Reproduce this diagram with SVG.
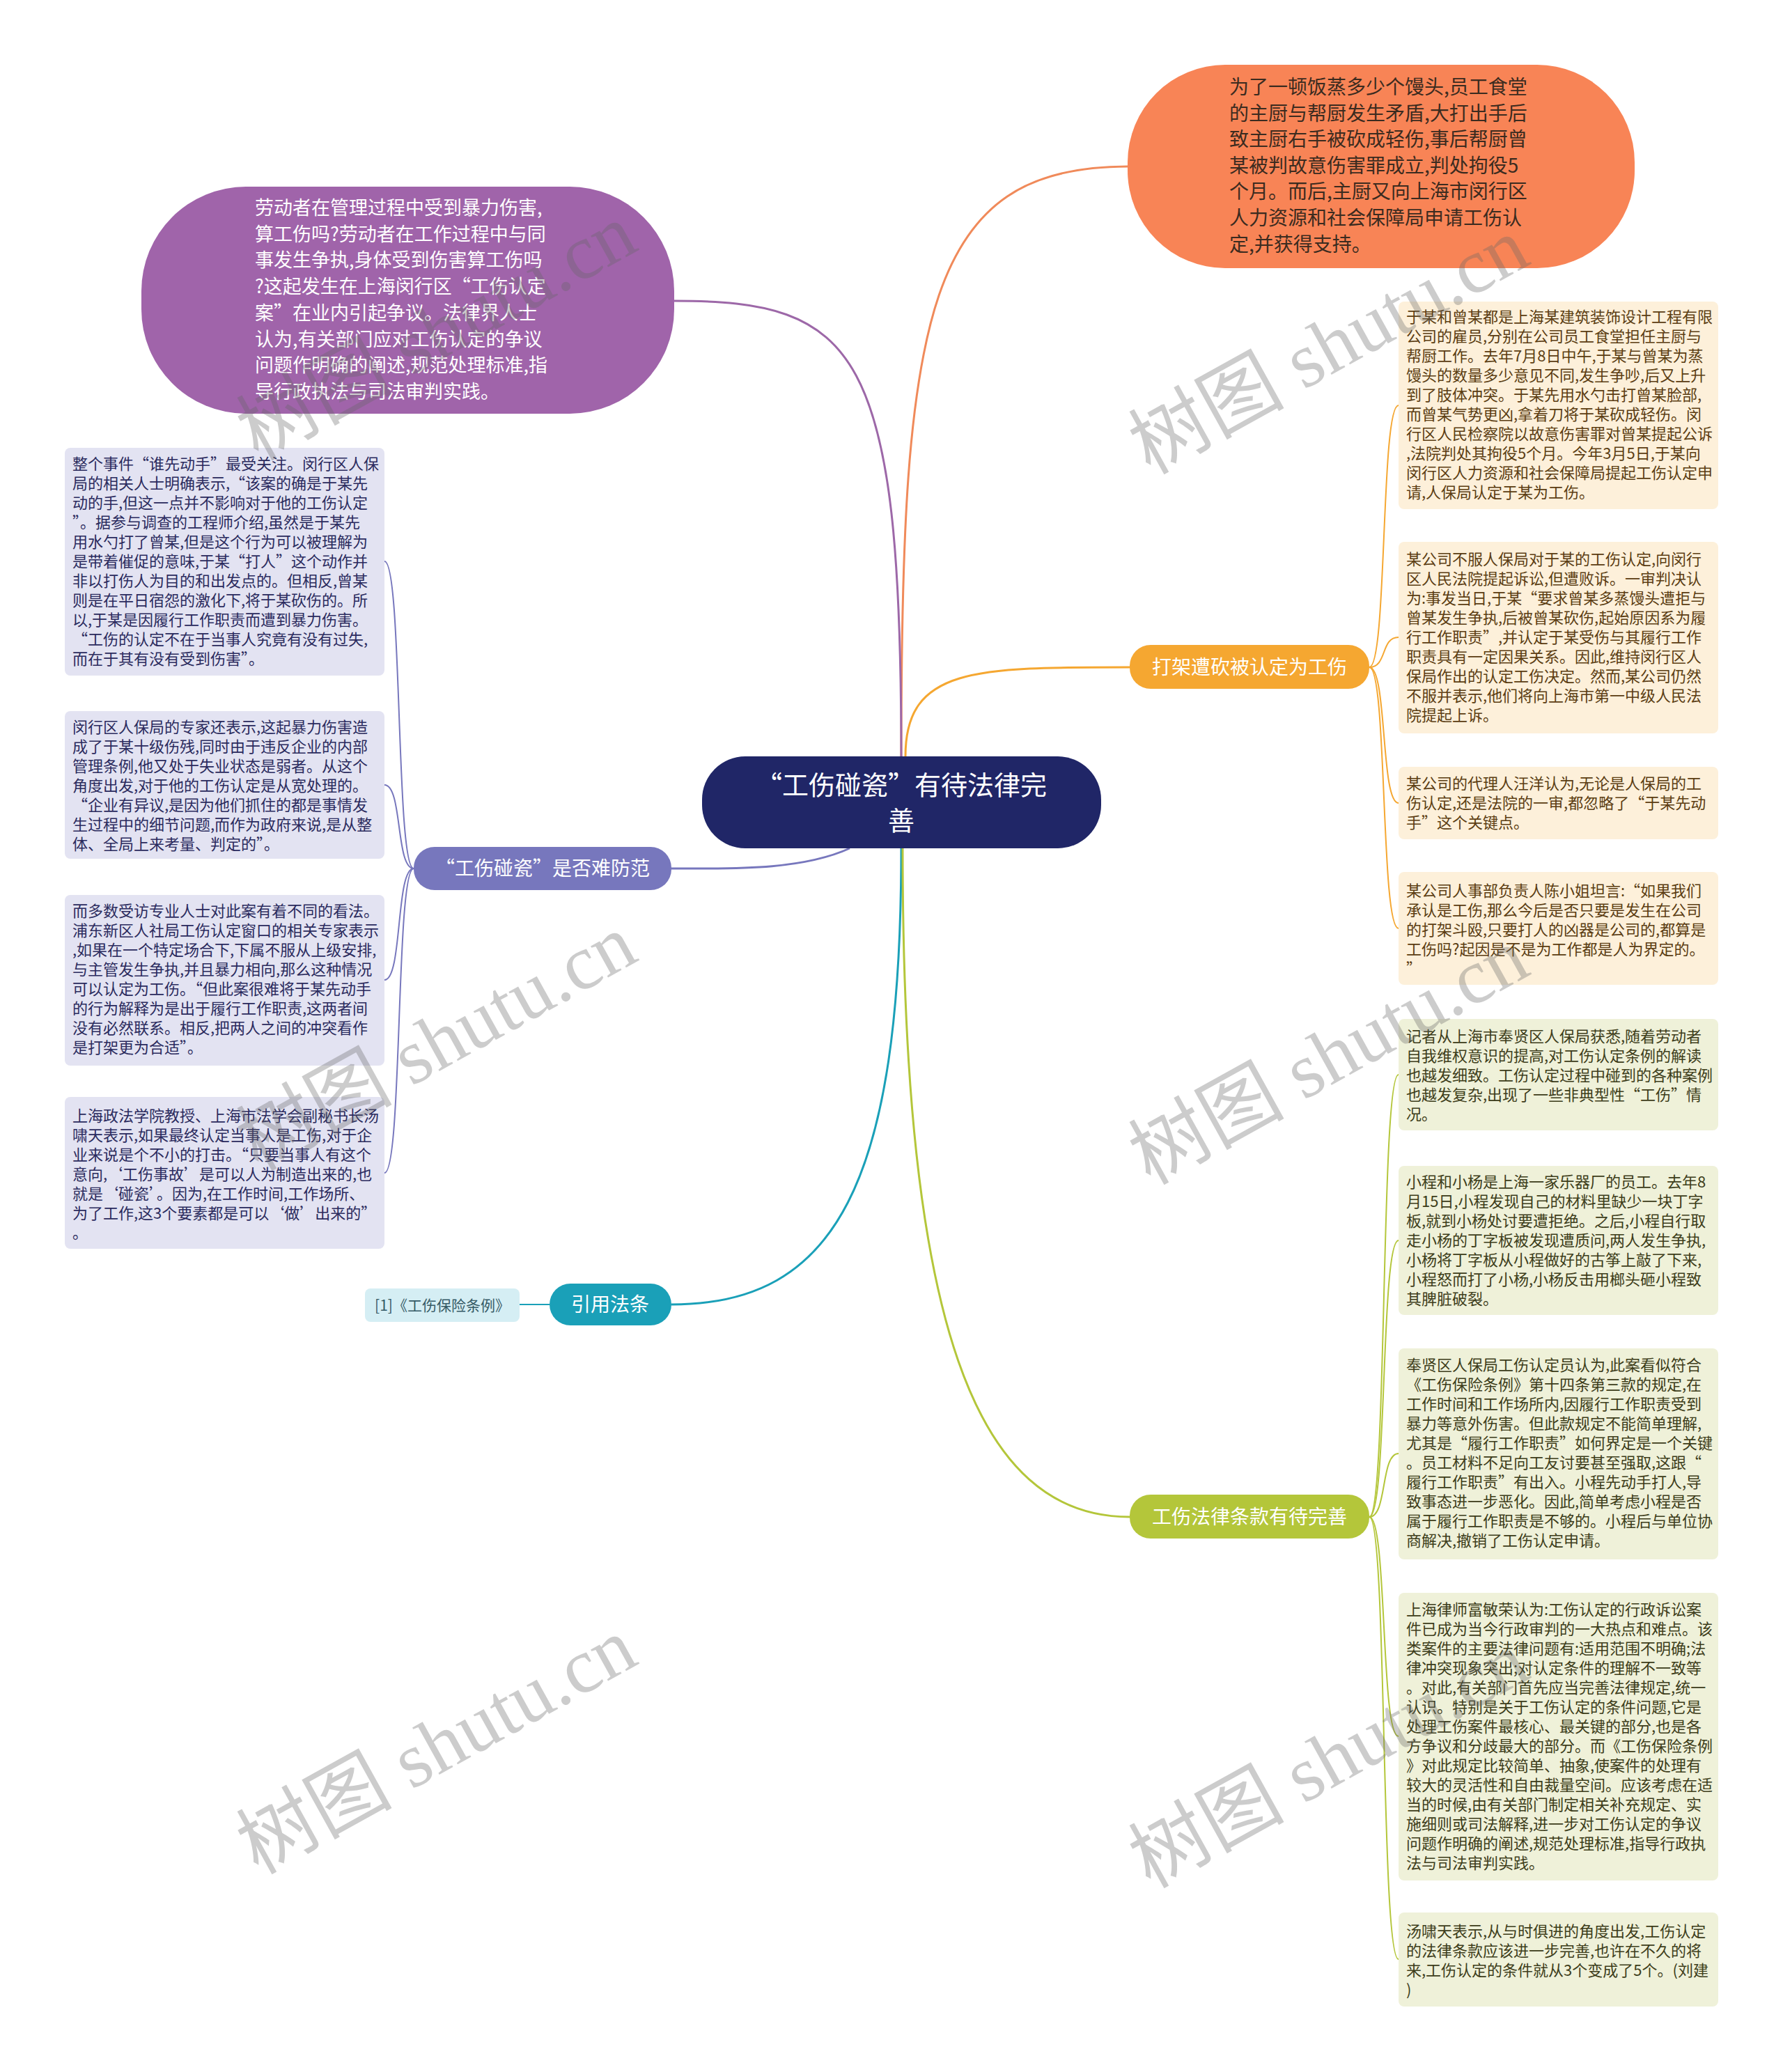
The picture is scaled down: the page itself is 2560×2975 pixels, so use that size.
<svg xmlns="http://www.w3.org/2000/svg" width="2560" height="2975" viewBox="0 0 2560 2975">
<style>
text{font-family:"Noto Sans CJK SC","Noto Sans",sans-serif;}
.leaf{font-size:22px;}
.lt{fill:#2b2b5e;}
.rt{fill:#5b3d12;}
.gt{fill:#3d3d1a;}
.br{font-size:28px;fill:#ffffff;text-anchor:middle;}
.conn{fill:none;stroke-width:3;}
.sub{fill:none;stroke-width:2;}
.wm{font-family:"Liberation Serif","Noto Sans CJK SC",serif;font-size:112px;fill:#666666;opacity:0.33;text-anchor:middle;}
</style>
<rect x="0" y="0" width="2560" height="2975" fill="#ffffff"/>
<g id="connectors">
<path class="conn" stroke="#f08a5a" d="M1294,1086 C1294,450 1330,239 1619,239"/>
<path class="conn" stroke="#9d68a8" d="M1294,1086 C1294,500 1230,432 968,432"/>
<path class="conn" stroke="#f5a731" d="M1300,1086 C1300,958 1400,958 1622,958"/>
<path class="conn" stroke="#7777bd" d="M1220,1218 C1150,1250 1050,1247 964,1247"/>
<path class="conn" stroke="#1aa0b8" d="M1294,1218 C1294,1700 1200,1873 964,1873"/>
<path class="conn" stroke="#b4c63a" d="M1296,1218 C1296,1900 1400,2178 1622,2178"/>
<path class="sub" stroke="#f5a731" d="M1966,958 C1992,958 1982,582 2008,582"/>
<path class="sub" stroke="#f5a731" d="M1966,958 C1992,958 1982,915 2008,915"/>
<path class="sub" stroke="#f5a731" d="M1966,958 C1992,958 1982,1153 2008,1153"/>
<path class="sub" stroke="#f5a731" d="M1966,958 C1992,958 1982,1333 2008,1333"/>
<path class="sub" stroke="#7777bd" d="M594,1247 C568,1247 578,806 552,806"/>
<path class="sub" stroke="#7777bd" d="M594,1247 C568,1247 578,1127 552,1127"/>
<path class="sub" stroke="#7777bd" d="M594,1247 C568,1247 578,1407 552,1407"/>
<path class="sub" stroke="#7777bd" d="M594,1247 C568,1247 578,1684 552,1684"/>
<path class="sub" stroke="#1aa0b8" d="M789,1873 L746,1873"/>
<path class="sub" stroke="#b4c63a" d="M1966,2178 C1992,2178 1982,1543 2008,1543"/>
<path class="sub" stroke="#b4c63a" d="M1966,2178 C1992,2178 1982,1781 2008,1781"/>
<path class="sub" stroke="#b4c63a" d="M1966,2178 C1992,2178 1982,2087 2008,2087"/>
<path class="sub" stroke="#b4c63a" d="M1966,2178 C1992,2178 1982,2493 2008,2493"/>
<path class="sub" stroke="#b4c63a" d="M1966,2178 C1992,2178 1982,2813 2008,2813"/>
</g>
<g id="center">
<rect x="1008" y="1086" width="573" height="132" rx="62" fill="#202667"/>
<text x="1294" y="1141" font-size="38" fill="#ffffff" text-anchor="middle">“工伤碰瓷”有待法律完</text>
<text x="1294" y="1192" font-size="38" fill="#ffffff" text-anchor="middle">善</text>
</g>
<g id="node-purple">
<rect x="203" y="268" width="765" height="326" rx="150" fill="#a064aa"/>
<text font-size="27" fill="#ffffff">
<tspan x="366" y="308">劳动者在管理过程中受到暴力伤害,</tspan>
<tspan x="366" dy="37.7">算工伤吗?劳动者在工作过程中与同</tspan>
<tspan x="366" dy="37.7">事发生争执,身体受到伤害算工伤吗</tspan>
<tspan x="366" dy="37.7">?这起发生在上海闵行区“工伤认定</tspan>
<tspan x="366" dy="37.7">案”在业内引起争议。法律界人士</tspan>
<tspan x="366" dy="37.7">认为,有关部门应对工伤认定的争议</tspan>
<tspan x="366" dy="37.7">问题作明确的阐述,规范处理标准,指</tspan>
<tspan x="366" dy="37.7">导行政执法与司法审判实践。</tspan>
</text>
</g>
<g id="node-orange">
<rect x="1619" y="93" width="728" height="292" rx="140" fill="#f88456"/>
<text font-size="28" fill="#3b2b1f">
<tspan x="1765" y="135">为了一顿饭蒸多少个馒头,员工食堂</tspan>
<tspan x="1765" dy="37.6">的主厨与帮厨发生矛盾,大打出手后</tspan>
<tspan x="1765" dy="37.6">致主厨右手被砍成轻伤,事后帮厨曾</tspan>
<tspan x="1765" dy="37.6">某被判故意伤害罪成立,判处拘役5</tspan>
<tspan x="1765" dy="37.6">个月。而后,主厨又向上海市闵行区</tspan>
<tspan x="1765" dy="37.6">人力资源和社会保障局申请工伤认</tspan>
<tspan x="1765" dy="37.6">定,并获得支持。</tspan>
</text>
</g>
<g id="branch-fight">
<rect x="1622" y="926" width="344" height="63" rx="30" fill="#f5a731"/>
<text class="br" x="1794" y="968">打架遭砍被认定为工伤</text>
</g>
<g id="branch-law">
<rect x="1622" y="2146" width="344" height="63" rx="30" fill="#b4c63a"/>
<text class="br" x="1794" y="2188">工伤法律条款有待完善</text>
</g>
<g id="branch-prevent">
<rect x="594" y="1216" width="370" height="62" rx="30" fill="#7777bd"/>
<text class="br" x="779" y="1257">“工伤碰瓷”是否难防范</text>
</g>
<g id="branch-cite">
<rect x="789" y="1843" width="175" height="60" rx="30" fill="#1aa0b8"/>
<text class="br" x="876" y="1883">引用法条</text>
</g>
<g id="leaf-cite">
<rect x="524" y="1850" width="222" height="48" rx="8" fill="#d5eef4"/>
<text x="635" y="1882" font-size="21" fill="#355a66" text-anchor="middle">[1]《工伤保险条例》</text>
</g>
<g id="leaf-l1">
<rect x="93" y="643" width="459" height="327" rx="8" fill="#e3e3f2"/>
<text class="leaf lt">
<tspan x="104" y="674">整个事件“谁先动手”最受关注。闵行区人保</tspan>
<tspan x="104" dy="28">局的相关人士明确表示,“该案的确是于某先</tspan>
<tspan x="104" dy="28">动的手,但这一点并不影响对于他的工伤认定</tspan>
<tspan x="104" dy="28">”。据参与调查的工程师介绍,虽然是于某先</tspan>
<tspan x="104" dy="28">用水勺打了曾某,但是这个行为可以被理解为</tspan>
<tspan x="104" dy="28">是带着催促的意味,于某“打人”这个动作并</tspan>
<tspan x="104" dy="28">非以打伤人为目的和出发点的。但相反,曾某</tspan>
<tspan x="104" dy="28">则是在平日宿怨的激化下,将于某砍伤的。所</tspan>
<tspan x="104" dy="28">以,于某是因履行工作职责而遭到暴力伤害。</tspan>
<tspan x="104" dy="28">“工伤的认定不在于当事人究竟有没有过失,</tspan>
<tspan x="104" dy="28">而在于其有没有受到伤害”。</tspan>
</text>
</g>
<g id="leaf-l2">
<rect x="93" y="1021" width="459" height="212" rx="8" fill="#e3e3f2"/>
<text class="leaf lt">
<tspan x="104" y="1052">闵行区人保局的专家还表示,这起暴力伤害造</tspan>
<tspan x="104" dy="28">成了于某十级伤残,同时由于违反企业的内部</tspan>
<tspan x="104" dy="28">管理条例,他又处于失业状态是弱者。从这个</tspan>
<tspan x="104" dy="28">角度出发,对于他的工伤认定是从宽处理的。</tspan>
<tspan x="104" dy="28">“企业有异议,是因为他们抓住的都是事情发</tspan>
<tspan x="104" dy="28">生过程中的细节问题,而作为政府来说,是从整</tspan>
<tspan x="104" dy="28">体、全局上来考量、判定的”。</tspan>
</text>
</g>
<g id="leaf-l3">
<rect x="93" y="1285" width="459" height="245" rx="8" fill="#e3e3f2"/>
<text class="leaf lt">
<tspan x="104" y="1316">而多数受访专业人士对此案有着不同的看法。</tspan>
<tspan x="104" dy="28">浦东新区人社局工伤认定窗口的相关专家表示</tspan>
<tspan x="104" dy="28">,如果在一个特定场合下,下属不服从上级安排,</tspan>
<tspan x="104" dy="28">与主管发生争执,并且暴力相向,那么这种情况</tspan>
<tspan x="104" dy="28">可以认定为工伤。“但此案很难将于某先动手</tspan>
<tspan x="104" dy="28">的行为解释为是出于履行工作职责,这两者间</tspan>
<tspan x="104" dy="28">没有必然联系。相反,把两人之间的冲突看作</tspan>
<tspan x="104" dy="28">是打架更为合适”。</tspan>
</text>
</g>
<g id="leaf-l4">
<rect x="93" y="1575" width="459" height="218" rx="8" fill="#e3e3f2"/>
<text class="leaf lt">
<tspan x="104" y="1610">上海政法学院教授、上海市法学会副秘书长汤</tspan>
<tspan x="104" dy="28">啸天表示,如果最终认定当事人是工伤,对于企</tspan>
<tspan x="104" dy="28">业来说是个不小的打击。“只要当事人有这个</tspan>
<tspan x="104" dy="28">意向,‘工伤事故’是可以人为制造出来的,也</tspan>
<tspan x="104" dy="28">就是‘碰瓷’。因为,在工作时间,工作场所、</tspan>
<tspan x="104" dy="28">为了工作,这3个要素都是可以‘做’出来的”</tspan>
<tspan x="104" dy="28">。</tspan>
</text>
</g>
<g id="leaf-r1">
<rect x="2008" y="433" width="459" height="298" rx="8" fill="#fdf0da"/>
<text class="leaf rt">
<tspan x="2019" y="463">于某和曾某都是上海某建筑装饰设计工程有限</tspan>
<tspan x="2019" dy="28">公司的雇员,分别在公司员工食堂担任主厨与</tspan>
<tspan x="2019" dy="28">帮厨工作。去年7月8日中午,于某与曾某为蒸</tspan>
<tspan x="2019" dy="28">馒头的数量多少意见不同,发生争吵,后又上升</tspan>
<tspan x="2019" dy="28">到了肢体冲突。于某先用水勺击打曾某脸部,</tspan>
<tspan x="2019" dy="28">而曾某气势更凶,拿着刀将于某砍成轻伤。闵</tspan>
<tspan x="2019" dy="28">行区人民检察院以故意伤害罪对曾某提起公诉</tspan>
<tspan x="2019" dy="28">,法院判处其拘役5个月。今年3月5日,于某向</tspan>
<tspan x="2019" dy="28">闵行区人力资源和社会保障局提起工伤认定申</tspan>
<tspan x="2019" dy="28">请,人保局认定于某为工伤。</tspan>
</text>
</g>
<g id="leaf-r2">
<rect x="2008" y="778" width="459" height="275" rx="8" fill="#fdf0da"/>
<text class="leaf rt">
<tspan x="2019" y="811">某公司不服人保局对于某的工伤认定,向闵行</tspan>
<tspan x="2019" dy="28">区人民法院提起诉讼,但遭败诉。一审判决认</tspan>
<tspan x="2019" dy="28">为:事发当日,于某“要求曾某多蒸馒头遭拒与</tspan>
<tspan x="2019" dy="28">曾某发生争执,后被曾某砍伤,起始原因系为履</tspan>
<tspan x="2019" dy="28">行工作职责”,并认定于某受伤与其履行工作</tspan>
<tspan x="2019" dy="28">职责具有一定因果关系。因此,维持闵行区人</tspan>
<tspan x="2019" dy="28">保局作出的认定工伤决定。然而,某公司仍然</tspan>
<tspan x="2019" dy="28">不服并表示,他们将向上海市第一中级人民法</tspan>
<tspan x="2019" dy="28">院提起上诉。</tspan>
</text>
</g>
<g id="leaf-r3">
<rect x="2008" y="1101" width="459" height="104" rx="8" fill="#fdf0da"/>
<text class="leaf rt">
<tspan x="2019" y="1133">某公司的代理人汪洋认为,无论是人保局的工</tspan>
<tspan x="2019" dy="28">伤认定,还是法院的一审,都忽略了“于某先动</tspan>
<tspan x="2019" dy="28">手”这个关键点。</tspan>
</text>
</g>
<g id="leaf-r4">
<rect x="2008" y="1252" width="459" height="162" rx="8" fill="#fdf0da"/>
<text class="leaf rt">
<tspan x="2019" y="1287">某公司人事部负责人陈小姐坦言:“如果我们</tspan>
<tspan x="2019" dy="28">承认是工伤,那么今后是否只要是发生在公司</tspan>
<tspan x="2019" dy="28">的打架斗殴,只要打人的凶器是公司的,都算是</tspan>
<tspan x="2019" dy="28">工伤吗?起因是不是为工作都是人为界定的。</tspan>
<tspan x="2019" dy="28">”</tspan>
</text>
</g>
<g id="leaf-g1">
<rect x="2008" y="1463" width="459" height="160" rx="8" fill="#eff1d9"/>
<text class="leaf gt">
<tspan x="2019" y="1496">记者从上海市奉贤区人保局获悉,随着劳动者</tspan>
<tspan x="2019" dy="28">自我维权意识的提高,对工伤认定条例的解读</tspan>
<tspan x="2019" dy="28">也越发细致。工伤认定过程中碰到的各种案例</tspan>
<tspan x="2019" dy="28">也越发复杂,出现了一些非典型性“工伤”情</tspan>
<tspan x="2019" dy="28">况。</tspan>
</text>
</g>
<g id="leaf-g2">
<rect x="2008" y="1674" width="459" height="214" rx="8" fill="#eff1d9"/>
<text class="leaf gt">
<tspan x="2019" y="1705">小程和小杨是上海一家乐器厂的员工。去年8</tspan>
<tspan x="2019" dy="28">月15日,小程发现自己的材料里缺少一块丁字</tspan>
<tspan x="2019" dy="28">板,就到小杨处讨要遭拒绝。之后,小程自行取</tspan>
<tspan x="2019" dy="28">走小杨的丁字板被发现遭质问,两人发生争执,</tspan>
<tspan x="2019" dy="28">小杨将丁字板从小程做好的古筝上敲了下来,</tspan>
<tspan x="2019" dy="28">小程怒而打了小杨,小杨反击用榔头砸小程致</tspan>
<tspan x="2019" dy="28">其脾脏破裂。</tspan>
</text>
</g>
<g id="leaf-g3">
<rect x="2008" y="1936" width="459" height="303" rx="8" fill="#eff1d9"/>
<text class="leaf gt">
<tspan x="2019" y="1968">奉贤区人保局工伤认定员认为,此案看似符合</tspan>
<tspan x="2019" dy="28">《工伤保险条例》第十四条第三款的规定,在</tspan>
<tspan x="2019" dy="28">工作时间和工作场所内,因履行工作职责受到</tspan>
<tspan x="2019" dy="28">暴力等意外伤害。但此款规定不能简单理解,</tspan>
<tspan x="2019" dy="28">尤其是“履行工作职责”如何界定是一个关键</tspan>
<tspan x="2019" dy="28">。员工材料不足向工友讨要甚至强取,这跟“</tspan>
<tspan x="2019" dy="28">履行工作职责”有出入。小程先动手打人,导</tspan>
<tspan x="2019" dy="28">致事态进一步恶化。因此,简单考虑小程是否</tspan>
<tspan x="2019" dy="28">属于履行工作职责是不够的。小程后与单位协</tspan>
<tspan x="2019" dy="28">商解决,撤销了工伤认定申请。</tspan>
</text>
</g>
<g id="leaf-g4">
<rect x="2008" y="2287" width="459" height="413" rx="8" fill="#eff1d9"/>
<text class="leaf gt">
<tspan x="2019" y="2319">上海律师富敏荣认为:工伤认定的行政诉讼案</tspan>
<tspan x="2019" dy="28">件已成为当今行政审判的一大热点和难点。该</tspan>
<tspan x="2019" dy="28">类案件的主要法律问题有:适用范围不明确;法</tspan>
<tspan x="2019" dy="28">律冲突现象突出;对认定条件的理解不一致等</tspan>
<tspan x="2019" dy="28">。对此,有关部门首先应当完善法律规定,统一</tspan>
<tspan x="2019" dy="28">认识。特别是关于工伤认定的条件问题,它是</tspan>
<tspan x="2019" dy="28">处理工伤案件最核心、最关键的部分,也是各</tspan>
<tspan x="2019" dy="28">方争议和分歧最大的部分。而《工伤保险条例</tspan>
<tspan x="2019" dy="28">》对此规定比较简单、抽象,使案件的处理有</tspan>
<tspan x="2019" dy="28">较大的灵活性和自由裁量空间。应该考虑在适</tspan>
<tspan x="2019" dy="28">当的时候,由有关部门制定相关补充规定、实</tspan>
<tspan x="2019" dy="28">施细则或司法解释,进一步对工伤认定的争议</tspan>
<tspan x="2019" dy="28">问题作明确的阐述,规范处理标准,指导行政执</tspan>
<tspan x="2019" dy="28">法与司法审判实践。</tspan>
</text>
</g>
<g id="leaf-g5">
<rect x="2008" y="2746" width="459" height="135" rx="8" fill="#eff1d9"/>
<text class="leaf gt">
<tspan x="2019" y="2781">汤啸天表示,从与时俱进的角度出发,工伤认定</tspan>
<tspan x="2019" dy="28">的法律条款应该进一步完善,也许在不久的将</tspan>
<tspan x="2019" dy="28">来,工伤认定的条件就从3个变成了5个。(刘建</tspan>
<tspan x="2019" dy="28">)</tspan>
</text>
</g>
<g id="watermarks">
<text class="wm" transform="translate(645,510) rotate(-29)">树图 shutu.cn</text>
<text class="wm" transform="translate(1926,530) rotate(-29)">树图 shutu.cn</text>
<text class="wm" transform="translate(645,1530) rotate(-29)">树图 shutu.cn</text>
<text class="wm" transform="translate(1926,1550) rotate(-29)">树图 shutu.cn</text>
<text class="wm" transform="translate(645,2540) rotate(-29)">树图 shutu.cn</text>
<text class="wm" transform="translate(1926,2560) rotate(-29)">树图 shutu.cn</text>
</g>
</svg>
